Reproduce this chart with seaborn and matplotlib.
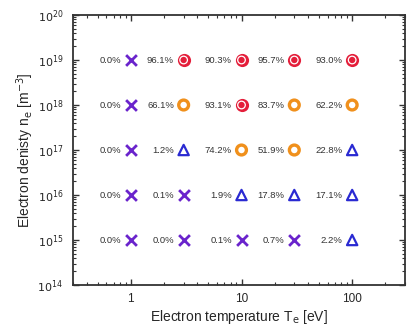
import numpy as np
import pandas as pd
import seaborn as sns
import matplotlib.pyplot as plt
from matplotlib.ticker import LogLocator, NullFormatter

# Electron temperature [eV] and electron density [m^-3] grid
temperatures = [1, 3, 10, 30, 100]
densities = [1e19, 1e18, 1e17, 1e16, 1e15]

# percentage (rows = densities, cols = temperatures)
pct_1e19 = [0.0, 96.1, 90.3, 95.7, 93.0]
pct_1e18 = [0.0, 66.1, 93.1, 83.7, 62.2]
pct_1e17 = [0.0, 1.2, 74.2, 51.9, 22.8]
pct_1e16 = [0.0, 0.1, 1.9, 17.8, 17.1]
pct_1e15 = [0.0, 0.0, 0.1, 0.7, 2.2]

# symbol category of each grid point
cat_1e19 = ['cross', 'double', 'double', 'double', 'double']
cat_1e18 = ['cross', 'circle', 'double', 'circle', 'circle']
cat_1e17 = ['cross', 'triangle', 'circle', 'circle', 'triangle']
cat_1e16 = ['cross', 'cross', 'triangle', 'triangle', 'triangle']
cat_1e15 = ['cross', 'cross', 'cross', 'cross', 'triangle']

pct_rows = [pct_1e19, pct_1e18, pct_1e17, pct_1e16, pct_1e15]
cat_rows = [cat_1e19, cat_1e18, cat_1e17, cat_1e16, cat_1e15]

rows = []
for n, pcts, cats in zip(densities, pct_rows, cat_rows):
    for T, p, c in zip(temperatures, pcts, cats):
        rows.append({'T': T, 'n': n, 'pct': p, 'cat': c})
df = pd.DataFrame(rows)

sns.set_style('ticks')
plt.rcParams['font.family'] = ['Liberation Sans', 'DejaVu Sans']

RED = '#e41e3a'
ORANGE = '#f0901c'
BLUE = '#2a2ad2'
PURPLE = '#6a24cc'

fig = plt.figure(figsize=(4.18, 3.29), dpi=100)
ax = fig.add_axes([0.1746, 0.1337, 0.7942, 0.8207])

cross = df[df['cat'] == 'cross']
tri = df[df['cat'] == 'triangle']
circ = df[df['cat'] == 'circle']
dbl = df[df['cat'] == 'double']

sns.scatterplot(data=cross, x='T', y='n', marker='x', s=60, color=PURPLE,
                linewidth=2.0, ax=ax, zorder=3)
sns.scatterplot(data=tri, x='T', y='n', marker='^', s=55, facecolor='none',
                edgecolor=BLUE, linewidth=1.6, ax=ax, zorder=3)
sns.scatterplot(data=circ, x='T', y='n', marker='o', s=50, facecolor='none',
                edgecolor=ORANGE, linewidth=2.4, ax=ax, zorder=3)
# double circle: red disk, thin white ring, red centre dot
sns.scatterplot(data=dbl, x='T', y='n', marker='o', s=90, color=RED,
                linewidth=0, ax=ax, zorder=3)
sns.scatterplot(data=dbl, x='T', y='n', marker='o', s=30, facecolor='none',
                edgecolor='white', linewidth=0.9, ax=ax, zorder=4)

for _, r in df.iterrows():
    ax.annotate(f"{r['pct']:.1f}%", (r['T'], r['n']), xytext=(-7, 0),
                textcoords='offset points', ha='right', va='center',
                fontsize=6.8, color='#333333')

ax.set_xscale('log')
ax.set_yscale('log')
ax.set_xlim(0.3, 300)
ax.set_ylim(1e14, 1e20)
ax.set_xticks([1, 10, 100])
ax.set_xticklabels(['1', '10', '100'])
ax.set_yticks([10.0 ** k for k in range(14, 21)])
ax.set_yticklabels([f'$10^{{{k}}}$' for k in range(14, 21)])
ax.xaxis.set_minor_locator(LogLocator(base=10, subs=np.arange(2, 10), numticks=20))
ax.yaxis.set_minor_locator(LogLocator(base=10, subs=np.arange(2, 10), numticks=20))
ax.xaxis.set_minor_formatter(NullFormatter())
ax.yaxis.set_minor_formatter(NullFormatter())

ax.tick_params(which='both', direction='in', top=True, right=True,
               color='#333333')
ax.tick_params(axis='x', which='major', length=4, width=1.0, labelsize=8.5, pad=6)
ax.tick_params(axis='y', which='major', length=4, width=1.0, labelsize=8, pad=7)
ax.tick_params(which='minor', length=2, width=0.8)
for sp in ax.spines.values():
    sp.set_linewidth(1.3)
    sp.set_color('#333333')

ax.set_xlabel('Electron temperature T$_\\mathrm{e}$ [eV]', fontsize=10, labelpad=2)
ax.set_ylabel('Electron denisty n$_\\mathrm{e}$ [m$^{-3}$]', fontsize=10, labelpad=1)

fig.savefig('out.png', dpi=100)
